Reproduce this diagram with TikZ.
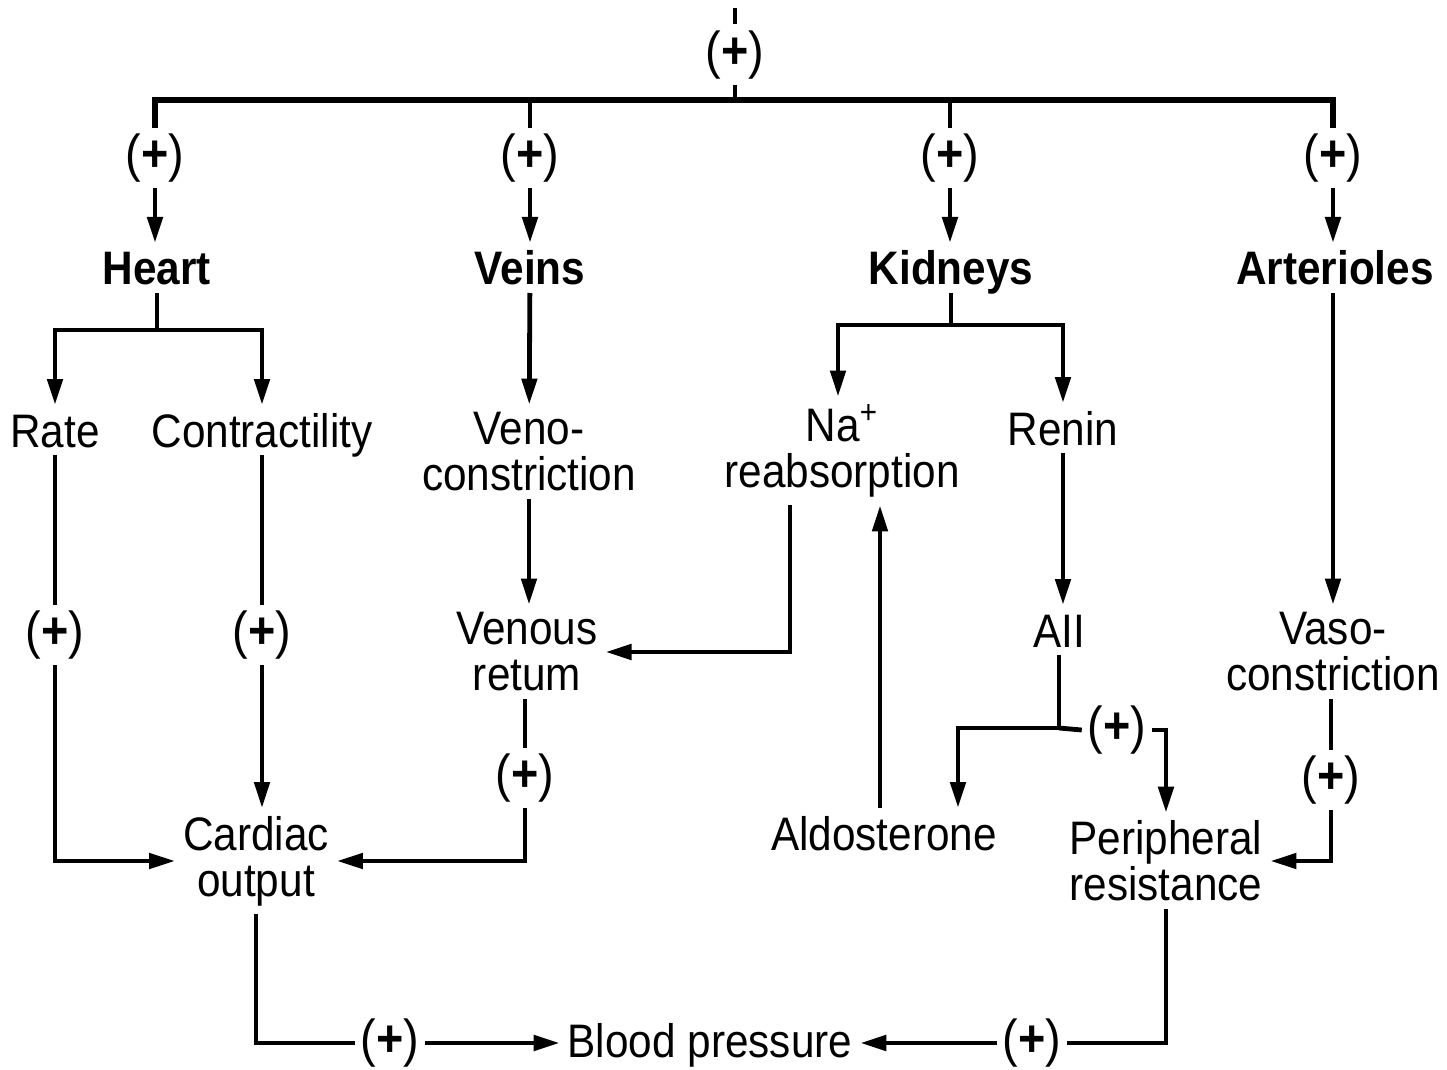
\documentclass[tikz,border=0pt]{standalone}
\usepackage{fontspec}
\setmainfont{Liberation Sans}[FakeStretch=0.9]
\usetikzlibrary{arrows.meta,calc}
\begin{document}
\begin{tikzpicture}[x=0.5pt,y=-0.5pt,
  txt/.style={font=\fontsize{23.5}{23}\selectfont, align=center, inner sep=0pt, outer sep=4pt},
  one/.style={text height=17pt, text depth=0pt},
  head/.style={txt, one, font=\fontsize{23.5}{23}\selectfont\bfseries},
  pl/.style={font=\fontsize{26}{26}\selectfont, inner sep=0pt, outer sep=3pt},
  ln/.style={line width=2.4pt},
  arr/.style={ln, -{Triangle[length=13pt,width=7.5pt]}}]
\useasboundingbox[fill=white] (0,0) rectangle (1447,1070);

% top
\coordinate (topin) at (735,8);
\node[pl] (ptop) at (735,55) {(\textbf{+})};
\coordinate (bus) at (735,100);
\draw[line width=1.6pt, dash pattern=on 8pt off 3pt] (topin) -- (ptop.north);
\draw[ln] (ptop.south) -- (bus);

% level plus signs
\node[pl] (p1) at (155,158) {(\textbf{+})};
\node[pl] (p2) at (530,158) {(\textbf{+})};
\node[pl] (p3) at (950,158) {(\textbf{+})};
\node[pl] (p4) at (1333,158) {(\textbf{+})};
\draw[line width=3.2pt] (p1.north) -- (p1.north |- bus) -- (p4.north |- bus) -- (p4.north);
\draw[ln] (p2.north) -- (p2.north |- bus);
\draw[ln] (p3.north) -- (p3.north |- bus);

% headings
\node[head] (heart) at (157,268) {Heart};
\node[head] (veins) at (530,268) {Veins};
\node[head] (kidneys) at (951,268) {Kidneys};
\node[head] (arter) at (1335,268) {Arterioles};
\draw[arr] (p1.south) -- (p1.south |- heart.north);
\draw[arr] (p2.south) -- (p2.south |- veins.north);
\draw[arr] (p3.south) -- (p3.south |- kidneys.north);
\draw[arr] (p4.south) -- (p4.south |- arter.north);

% heart branch
\node[txt, one] (rate) at (55,430) {Rate};
\node[txt, one] (contr) at (262,430) {Contractility};
\coordinate (hj) at (157,330);
\draw[ln] (heart.south) -- (hj);
\draw[arr] (hj) -| (rate.north);
\draw[arr] (hj) -| (contr.north);

\node[txt] (cardiac) at (256,861) {Cardiac\\output};
\node[pl] (pr) at (55,635) {(\textbf{+})};
\node[pl] (pc) at (262,635) {(\textbf{+})};
\draw[ln] (rate) -- (pr);
\draw[arr] (pr.south) |- (cardiac.west);
\draw[ln] (contr) -- (pc);
\draw[arr] (pc.south) -- (pc.south |- cardiac.north);

% veins branch
\node[txt] (venocon) at (529,452) {Veno-\\constriction};
\node[txt] (venret) at (527,652) {Venous\\retum};
\draw[arr] (veins) -- (venocon);
\draw[arr] (venocon.south) -- (venocon.south |- venret.north);
\node[pl] (pv) at (525,778) {(\textbf{+})};
\draw[ln] (venret.south -| pv) -- (pv.north);
\draw[arr] (pv.south) |- (cardiac.east);

% kidneys branch
\node[txt] (na) at (842,451) {Na\textsuperscript{+}\\reabsorption};
\node[txt, one] (renin) at (1063,428) {Renin};
\coordinate (kj) at (951,325);
\draw[ln] (kidneys.south) -- (kj);
\draw[arr] (kj) -| ([xshift=-2pt]na.north);
\draw[arr] (kj) -| (renin.north);
\draw[arr] ([xshift=-26pt]na.south) |- (venret.east);

\node[txt, one] (aii) at (1059,630) {AII};
\draw[arr] (renin.south) -- (renin.south |- aii.north);

\node[txt, one] (aldo) at (884,833) {Aldosterone};
\node[txt] (perres) at (1166,861) {Peripheral\\resistance};
\draw[arr] ([xshift=-2pt]aldo.north) -- ([xshift=-2pt]aldo.north |- na.south);

\coordinate (aj) at (1059,728);
\node[pl] (pa) at (1117,730) {(\textbf{+})};
\draw[ln] (aii.south) -- (aj);
\draw[arr] (aj) -| ([xshift=37pt]aldo.north);
\draw[ln] (aj) -- (pa.west);
\draw[arr] (pa.east) -| (perres.north);

% arterioles branch
\node[txt] (vaso) at (1333,652) {Vaso-\\constriction};
\draw[arr] (arter.south -| vaso) -- (vaso.north);
\node[pl] (pvs) at (1331,780) {(\textbf{+})};
\draw[ln] (vaso.south -| pvs) -- (pvs.north);
\draw[arr] (pvs.south) |- (perres.east);

% blood pressure
\node[txt, one] (bp) at (710,1040) {Blood pressure};
\node[pl] (pb1) at (390,1043) {(\textbf{+})};
\node[pl] (pb2) at (1032,1043) {(\textbf{+})};
\draw[ln] (cardiac.south) |- (pb1.west);
\draw[arr] (pb1.east) -- (pb1.east -| bp.west);
\draw[ln] (perres.south) |- (pb2.east);
\draw[arr] (pb2.west) -- (pb2.west -| bp.east);
\end{tikzpicture}
\end{document}
